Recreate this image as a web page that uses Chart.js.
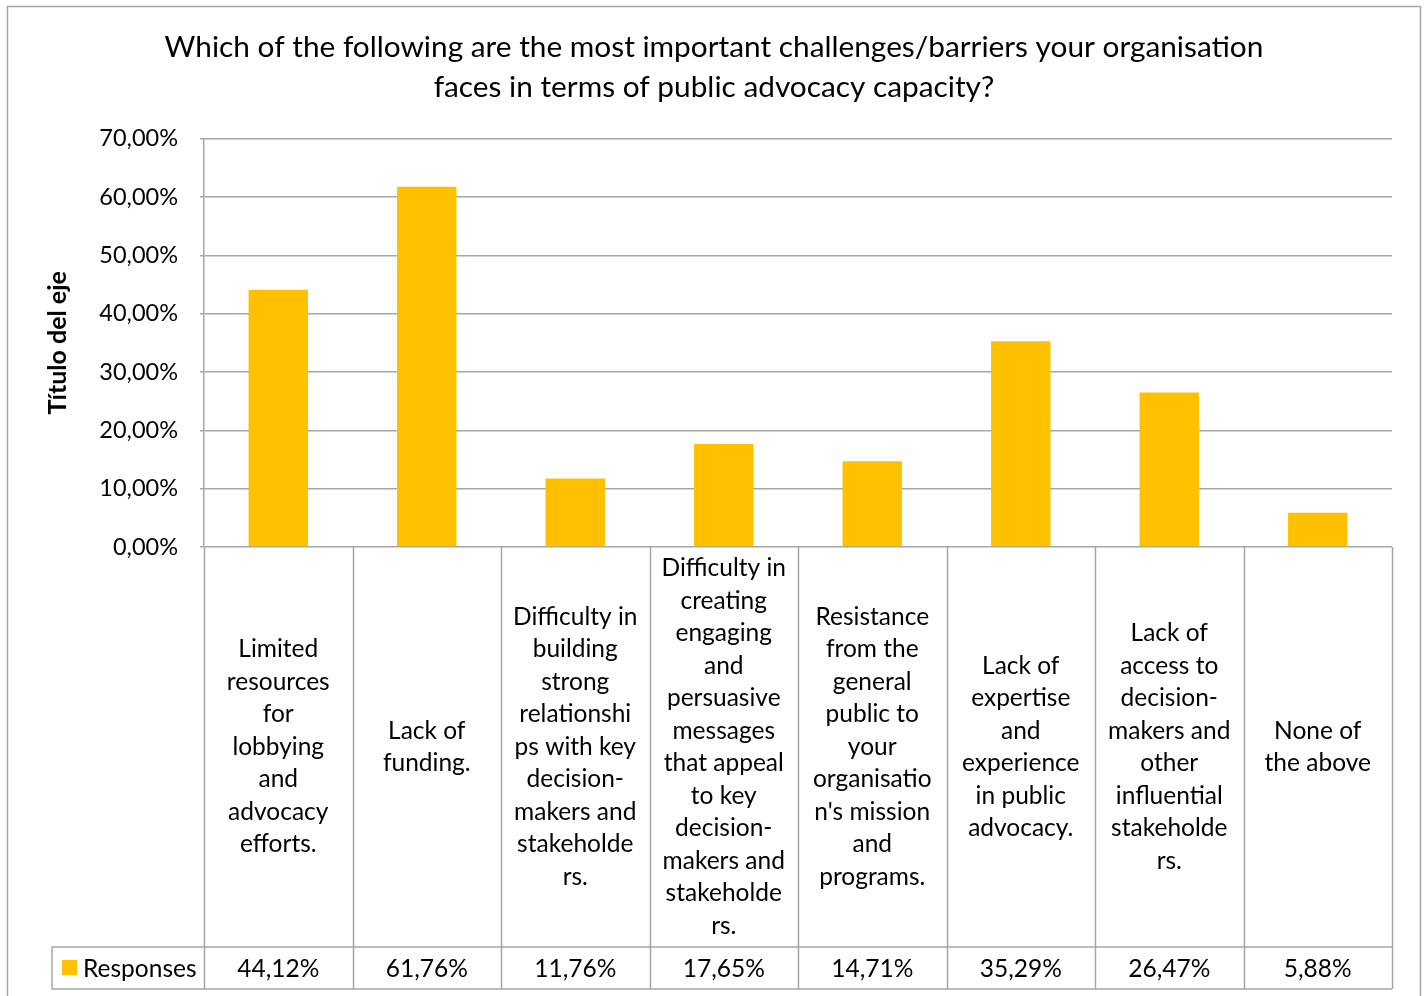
<!DOCTYPE html>
<html>
<head>
<meta charset="utf-8">
<script src="https://cdn.jsdelivr.net/npm/chart.js@4"></script>
<style>
  html, body { margin: 0; padding: 0; background: #fff; }
  #chart { display: block; }
</style>
</head>
<body>
<canvas id="chart" width="1428" height="996"></canvas>
<script>
const titleLines = [
  'Which of the following are the most important challenges/barriers your organisation',
  'faces in terms of public advocacy capacity?'
];
const axisTitle = 'Título del eje';
const seriesName = 'Responses';

// category labels, split the way they wrap in the table cells
const categories = [
  ['Limited', 'resources', 'for', 'lobbying', 'and', 'advocacy', 'efforts.'],
  ['Lack of', 'funding.'],
  ['Difficulty in', 'building', 'strong', 'relationshi', 'ps with key', 'decision-', 'makers and', 'stakeholde', 'rs.'],
  ['Difficulty in', 'creating', 'engaging', 'and', 'persuasive', 'messages', 'that appeal', 'to key', 'decision-', 'makers and', 'stakeholde', 'rs.'],
  ['Resistance', 'from the', 'general', 'public to', 'your', 'organisatio', "n's mission", 'and', 'programs.'],
  ['Lack of', 'expertise', 'and', 'experience', 'in public', 'advocacy.'],
  ['Lack of', 'access to', 'decision-', 'makers and', 'other', 'influential', 'stakeholde', 'rs.'],
  ['None of', 'the above']
];
const responses = [44.12, 61.76, 11.76, 17.65, 14.71, 35.29, 26.47, 5.88];
const yTicks = [0, 10, 20, 30, 40, 50, 60, 70];

const FONT = 'Lato, "Open Sans", sans-serif';
const LINE = '#a6a6a6';
const BAR = '#ffc000';

function pct(v) {
  return v.toFixed(2).replace('.', ',') + '%';
}

// border round the chart + data table under the plot
const tablePlugin = {
  id: 'tablePlugin',
  beforeDraw(chart) {
    const ctx = chart.ctx;
    ctx.save();
    ctx.strokeStyle = LINE;
    ctx.lineWidth = 1.5;
    ctx.strokeRect(7.5, 6.5, 1413, 1000);
    ctx.restore();
  },
  afterDraw(chart) {
    const ctx = chart.ctx;
    const area = chart.chartArea;
    const x = chart.scales.x;
    const n = categories.length;
    const step = (area.right - area.left) / n;
    const rowTop = area.bottom;
    const rowMid = 947;
    const rowBot = 989;
    const legendLeft = 52;

    ctx.save();
    ctx.strokeStyle = LINE;
    ctx.lineWidth = 1.5;
    ctx.beginPath();
    for (let i = 0; i <= n; i++) {
      const px = Math.round(area.left + step * i) + 0.5;
      ctx.moveTo(px, rowTop);
      ctx.lineTo(px, rowBot);
    }
    ctx.moveTo(legendLeft, rowMid);
    ctx.lineTo(area.right, rowMid);
    ctx.moveTo(legendLeft, rowBot);
    ctx.lineTo(area.right, rowBot);
    ctx.moveTo(legendLeft, rowMid);
    ctx.lineTo(legendLeft, rowBot);
    ctx.stroke();

    ctx.fillStyle = '#000';
    ctx.font = '24.5px ' + FONT;
    ctx.textAlign = 'center';
    ctx.textBaseline = 'middle';
    const lh = 32.5;
    const cellMid = (rowTop + rowMid) / 2;
    categories.forEach((lines, i) => {
      const cx = x.getPixelForValue(i);
      const y0 = cellMid - (lines.length - 1) * lh / 2;
      lines.forEach((t, j) => ctx.fillText(t, cx, y0 + j * lh));
      ctx.fillText(pct(responses[i]), cx, (rowMid + rowBot) / 2 + 1);
    });

    // legend key
    ctx.fillStyle = BAR;
    ctx.fillRect(62, 960, 15, 15);
    ctx.fillStyle = '#000';
    ctx.textAlign = 'left';
    ctx.fillText(seriesName, 83, (rowMid + rowBot) / 2 + 1);
    ctx.restore();
  }
};

new Chart(document.getElementById('chart'), {
  type: 'bar',
  data: {
    labels: categories,
    datasets: [{
      label: seriesName,
      data: responses,
      backgroundColor: BAR,
      borderWidth: 0,
      barPercentage: 0.8,
      categoryPercentage: 0.5
    }]
  },
  options: {
    responsive: false,
    animation: false,
    layout: { padding: { left: 0, right: 0, top: 0, bottom: 449 } },
    plugins: {
      legend: { display: false },
      tooltip: { enabled: false },
      title: {
        display: true,
        text: titleLines,
        color: '#000',
        font: { family: FONT, size: 29.8, weight: 'normal', lineHeight: 1.32 },
        padding: { top: 28, bottom: 32 }
      }
    },
    scales: {
      x: {
        display: false
      },
      y: {
        min: 0,
        max: 70,
        afterFit(scale) { scale.width = 204; },
        afterBuildTicks(scale) {
          scale.ticks = yTicks.map(v => ({ value: v }));
        },
        ticks: {
          color: '#000',
          padding: 22,
          font: { family: FONT, size: 23.5 },
          callback: v => pct(v)
        },
        grid: {
          color: LINE,
          lineWidth: 1.5,
          tickLength: 4
        },
        border: { color: LINE, width: 1.5 },
        title: {
          display: true,
          text: axisTitle,
          color: '#000',
          font: { family: FONT, size: 25, weight: 'bold' },
          padding: { top: 43, bottom: 0 }
        }
      },
      // empty right-hand axis, only keeps the plot off the right edge
      yRight: {
        position: 'right',
        min: 0,
        max: 70,
        afterFit(scale) { scale.width = 36; },
        ticks: { display: false },
        grid: { display: false, drawOnChartArea: false },
        border: { display: false }
      }
    }
  },
  plugins: [tablePlugin]
});
</script>
</body>
</html>
